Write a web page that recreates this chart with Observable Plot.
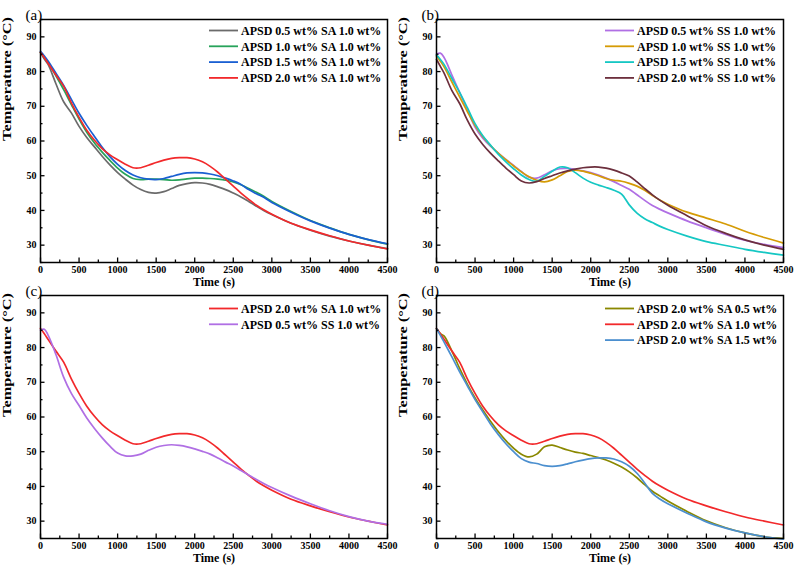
<!DOCTYPE html>
<html>
<head>
<meta charset="utf-8">
<script src="https://cdn.jsdelivr.net/npm/d3@7"></script>
<script src="https://cdn.jsdelivr.net/npm/@observablehq/plot@0.6"></script>
<style>
  body { margin: 0; background: #fff; }
  #fig { position: relative; width: 795px; height: 569px; overflow: hidden; background: #fff; }
  #fig svg { position: absolute; overflow: visible; }
</style>
</head>
<body>
<div id="fig"></div>
<script>
// ---------- data ----------
const time = [0,50,100,200,300,400,500,600,700,800,900,1000,1100,1200,1300,1400,1500,1600,1700,1800,1900,2000,2100,2200,2300,2400,2500,2600,2700,2800,2900,3000,3250,3500,3750,4000,4250,4500];

// APSD x wt% + SA 1.0 wt%
const apsd05_sa10 = [85.5,83.6,82,76.5,71.3,68.1,64.2,61,58.3,55.6,53.1,50.9,49,47.3,46,45.2,45,45.4,46.3,47.2,47.7,48,47.9,47.5,46.8,46,45,43.9,42.6,41.2,39.9,38.8,36.3,34.3,32.6,31.2,30,29];
const apsd10_sa10 = [85.5,84,82.5,78.8,74.8,70.5,66.3,62.5,59.4,56.8,54.4,52.2,50.4,49.2,48.9,49,49,48.9,48.7,48.8,49.1,49.3,49.3,49.2,49,48.7,48.2,47.4,46.3,45.2,44,42.6,39.7,37.1,35,33.1,31.6,30.3];
const apsd15_sa10 = [85.8,84.5,83,79.5,76,72,68,64.5,61.3,58.2,55.5,53.3,51.5,50.2,49.4,49,48.9,49.2,49.8,50.4,50.8,50.9,50.8,50.5,50,49.3,48.5,47.5,46,44.8,43.7,42.3,39.5,37,34.9,33.1,31.6,30.4];
const apsd20_sa10 = [85.5,84,82.3,79,75.8,71,66.8,63.1,60.2,57.8,56,54.6,53.3,52.3,52.3,53,53.8,54.5,55,55.2,55.2,54.8,54,52.7,51,49,47,45,43.2,41.5,40.1,38.9,36.3,34.4,32.7,31.2,30,28.9];

// APSD x wt% + SS 1.0 wt%
const apsd05_ss10 = [85,85.3,84,79,74,69,64,60.8,58.5,56.5,54.7,53,51.2,49.6,49.3,50.3,51.4,52,52.1,51.8,51.4,50.9,50.2,49.3,48.3,47.2,46.1,44.5,42.9,41.4,40.3,39.3,37,35,33.1,31.4,30.2,29.3];
const apsd10_ss10 = [84.5,83,81.3,77,72.7,68.5,64.5,61.3,58.7,56.5,54.6,52.8,51.1,49.7,48.7,48.2,48.8,50,51.2,51.6,51.3,50.7,50,49.2,48.7,48.4,47.8,47,45.8,44.3,42.9,41.8,39.5,37.8,36.1,34,32.2,30.6];
const apsd15_ss10 = [84.8,83.5,82,78,74,69.6,65,61.5,58.8,56.2,54,52,50.2,48.9,48.4,49.8,51.3,52.5,52.3,50.9,49.3,48.1,47.3,46.6,45.8,44.7,41.6,39.2,37.6,36.5,35.4,34.5,32.6,31,29.9,28.8,27.9,27.1];
const apsd20_ss10 = [83.5,81.5,79.5,74.5,70.8,66,62,59,56.5,54.3,52.2,50.3,48.5,47.9,48.3,49.2,50,50.8,51.4,51.9,52.3,52.5,52.5,52.2,51.6,50.8,49.9,48.2,46.3,44.5,42.9,41.5,38.5,35.6,33.4,31.5,30,28.8];

// panel (c) comparison curve
const apsd05_ss10_c = [85,85.3,83.5,78,71.5,66.8,63.3,59.7,56.7,54,51.6,49.6,48.8,48.8,49.3,50.4,51.3,51.8,52,51.8,51.4,50.8,50.1,49.3,48.2,47,45.9,44.6,43.3,42,40.8,39.7,37.2,35,33,31.3,30,29.1];

// APSD 2.0 wt% + SA y wt%
const apsd20_sa05 = [85.5,84,83.3,79,74,69.5,65.5,62,58.8,55.8,53.2,51,49.3,48.5,49.3,51.4,51.9,51.2,50.5,49.9,49.5,48.9,48.3,47.6,46.7,45.6,44.2,42.5,40.5,38.6,37.2,35.8,32.8,30.1,28.1,26.6,25.5,25];
const apsd20_sa15 = [85.5,83.5,81.5,77.3,73,69,65,61.5,58,55,52.3,50,48,47,46.6,46,45.8,46,46.5,47.1,47.6,48,48.2,48.2,47.9,47.1,45.8,43.8,41,38,36.3,35,32.3,29.8,28,26.6,25.5,24.8];

const xTicks = [0,500,1000,1500,2000,2500,3000,3500,4000,4500];
const xMinor = [250,750,1250,1750,2250,2750,3250,3750,4250];
const yTicks = [30,40,50,60,70,80,90];
const yMinor = [25,35,45,55,65,75,85,95];

const panels = [
  {label: "(a)", left: 0, top: 0, legendTop: 11.5, series: [
    {name: "APSD 0.5 wt% SA 1.0 wt%", values: apsd05_sa10, color: "#6b6b6b"},
    {name: "APSD 1.0 wt% SA 1.0 wt%", values: apsd10_sa10, color: "#27a35a"},
    {name: "APSD 1.5 wt% SA 1.0 wt%", values: apsd15_sa10, color: "#1a5fd2"},
    {name: "APSD 2.0 wt% SA 1.0 wt%", values: apsd20_sa10, color: "#f2292b"}
  ]},
  {label: "(b)", left: 396, top: 0, legendTop: 11.5, series: [
    {name: "APSD 0.5 wt% SS 1.0 wt%", values: apsd05_ss10, color: "#b06fe4"},
    {name: "APSD 1.0 wt% SS 1.0 wt%", values: apsd10_ss10, color: "#d59b05"},
    {name: "APSD 1.5 wt% SS 1.0 wt%", values: apsd15_ss10, color: "#15c7c3"},
    {name: "APSD 2.0 wt% SS 1.0 wt%", values: apsd20_ss10, color: "#6c2f3d"}
  ]},
  {label: "(c)", left: 0, top: 276, legendTop: 13.5, series: [
    {name: "APSD 2.0 wt% SA 1.0 wt%", values: apsd20_sa10, color: "#f2292b"},
    {name: "APSD 0.5 wt% SS 1.0 wt%", values: apsd05_ss10_c, color: "#b06fe4"}
  ]},
  {label: "(d)", left: 396, top: 276, legendTop: 13.5, series: [
    {name: "APSD 2.0 wt% SA 0.5 wt%", values: apsd20_sa05, color: "#8a8800"},
    {name: "APSD 2.0 wt% SA 1.0 wt%", values: apsd20_sa10, color: "#f2292b"},
    {name: "APSD 2.0 wt% SA 1.5 wt%", values: apsd20_sa15, color: "#4b8fcf"}
  ]}
];

// ---------- drawing ----------
const W = 395, H = 295, mL = 40, mR = 8, mT = 19, mB = 33;
const fw = W - mL - mR, fh = H - mT - mB;
const font = "'Liberation Serif', 'Times New Roman', serif";
const fig = document.getElementById("fig");

for (const p of panels) {
  const rows = p.series.flatMap(s => time.map((t, i) => ({t, v: s.values[i], name: s.name})));
  const svg = Plot.plot({
    width: W, height: H,
    marginLeft: mL, marginRight: mR, marginTop: mT, marginBottom: mB,
    style: {fontFamily: font, fontWeight: "bold", fontSize: "10px", color: "black", background: "transparent", overflow: "visible"},
    x: {domain: [0, 4500]},
    y: {domain: [25, 95]},
    color: {domain: p.series.map(s => s.name), range: p.series.map(s => s.color)},
    marks: [
      Plot.line(rows, {x: "t", y: "v", stroke: "name", strokeWidth: 1.7, curve: "catmull-rom"}),
      Plot.tickX(xTicks, {x: d => d, insetTop: fh - 4.5, stroke: "black", strokeWidth: 1.3}),
      Plot.tickX(xMinor, {x: d => d, insetTop: fh - 2.5, stroke: "black", strokeWidth: 1.3}),
      Plot.tickY(yTicks, {y: d => d, insetRight: fw - 4.5, stroke: "black", strokeWidth: 1.3}),
      Plot.tickY(yMinor, {y: d => d, insetRight: fw - 2.5, stroke: "black", strokeWidth: 1.3}),
      Plot.axisX({ticks: xTicks, tickSize: 0, tickPadding: 3, tickFormat: d => String(d), label: null, fontSize: 10, fontWeight: "bold"}),
      Plot.axisY({ticks: yTicks, tickSize: 0, tickPadding: 4, tickFormat: d => String(d), label: null, fontSize: 10, fontWeight: "bold"}),
      Plot.frame({stroke: "black", strokeWidth: 1.5}),
      Plot.text(["Time (s)"], {frameAnchor: "bottom", dy: 23, fontSize: 12, fontWeight: "bold", fill: "black"}),
      Plot.text(["Temperature (°C)"], {frameAnchor: "left", dx: -33, rotate: -90, fontSize: 12, fontWeight: "bold", fill: "black", className: "ylab"}),
      Plot.text([p.label], {frameAnchor: "top-left", dx: -15, dy: -10.5, textAnchor: "start", fontSize: 15, fontWeight: "normal", fill: "black"})
    ]
  });
  svg.style.left = p.left + "px";
  svg.style.top = p.top + "px";
  // stretch y-axis title like the reference
  d3.select(svg).selectAll(".ylab text").attr("textLength", 124).attr("lengthAdjust", "spacingAndGlyphs");
  // legend
  const lg = d3.select(svg).append("g")
    .attr("font-family", font).attr("font-weight", "bold").attr("font-size", 12).attr("text-anchor", "start");
  p.series.forEach((s, i) => {
    const y = mT + p.legendTop + i * 15.8;
    lg.append("line").attr("x1", mL + 169).attr("x2", mL + 198).attr("y1", y).attr("y2", y)
      .attr("stroke", s.color).attr("stroke-width", 1.8);
    lg.append("text").attr("x", mL + 201).attr("y", y).attr("dy", "0.35em").attr("fill", "black").text(s.name);
  });
  fig.appendChild(svg);
}
</script>
</body>
</html>
